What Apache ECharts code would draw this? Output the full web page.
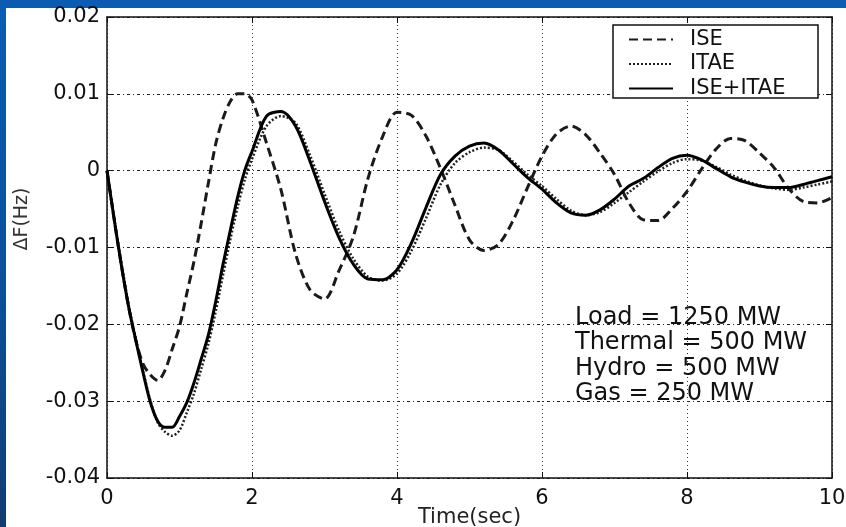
<!DOCTYPE html>
<html>
<head>
<meta charset="utf-8">
<script src="https://cdn.jsdelivr.net/npm/echarts@6.0.0/dist/echarts.min.js"></script>
<style>
    html, body { margin: 0; padding: 0; }
    body {
        width: 846px; height: 527px; position: relative; overflow: hidden;
        background: linear-gradient(180deg, #0b5cb2 0%, #0c5099 55%, #113d72 100%);
    }
    #sheet { position: absolute; left: 6px; top: 8px; right: 0; bottom: 0; background: #fff; }
    #chart { position: absolute; left: 0; top: 0; width: 846px; height: 527px; }
</style>
</head>
<body>
<div id="sheet"></div>
<div id="chart"></div>
<script>
    // time samples (s)
    const timeSec = [
        0, 0.1, 0.2, 0.3, 0.4, 0.5, 0.6, 0.7, 0.8, 0.9, 1.0,
        1.1, 1.2, 1.3, 1.4, 1.5, 1.6, 1.7, 1.8, 1.9, 2.0,
        2.2, 2.4, 2.6, 2.8, 3.0, 3.2, 3.4, 3.6, 3.8, 4.0,
        4.2, 4.4, 4.6, 4.8, 5.0, 5.2, 5.4, 5.6, 5.8, 6.0,
        6.2, 6.4, 6.6, 6.8, 7.0, 7.2, 7.4, 7.6, 7.8, 8.0,
        8.2, 8.4, 8.6, 8.8, 9.0, 9.2, 9.4, 9.6, 9.8, 10.0
    ];

    // delta F (Hz)
    const ise = [
        0, -0.0064, -0.0124, -0.0178, -0.0222, -0.0252, -0.0266, -0.0273, -0.0260, -0.0232, -0.0203,
        -0.0160, -0.0118, -0.0068, -0.0015, 0.0035, 0.0068, 0.0090, 0.0100, 0.0100, 0.0092,
        0.0036, -0.0025, -0.0108, -0.0155, -0.0167, -0.0130, -0.0085, -0.0010, 0.0044, 0.0076,
        0.0072, 0.0045, 0.0003, -0.0045, -0.0090, -0.0104, -0.0096, -0.0065, -0.0022, 0.0019,
        0.0048, 0.0058, 0.0047, 0.0023, -0.0005, -0.0042, -0.0064, -0.0065, -0.0049, -0.0027,
        0.0002, 0.0028, 0.0042, 0.0039, 0.0023, 0.0004, -0.0023, -0.0040, -0.0042, -0.0035
    ];
    const itae = [
        0, -0.0062, -0.0121, -0.0175, -0.0220, -0.0262, -0.0300, -0.0328, -0.0340, -0.0345, -0.0338,
        -0.0315, -0.0290, -0.0258, -0.0225, -0.0183, -0.0136, -0.0090, -0.0048, -0.0012, 0.0015,
        0.0058, 0.0071, 0.0062, 0.0020, -0.0030, -0.0078, -0.0115, -0.0138, -0.0143, -0.0134,
        -0.0104, -0.0062, -0.0018, 0.0010, 0.0024, 0.0030, 0.0027, 0.0012, -0.0005, -0.0020,
        -0.0037, -0.0052, -0.0058, -0.0054, -0.0042, -0.0028, -0.0014, -0.0001, 0.0010, 0.0015,
        0.0013, 0.0005, -0.0005, -0.0013, -0.0019, -0.0023, -0.0025, -0.0022, -0.0018, -0.0014
    ];
    const iseItae = [
        0, -0.0064, -0.0124, -0.0178, -0.0222, -0.0264, -0.0302, -0.0326, -0.0334, -0.0334, -0.0320,
        -0.0302, -0.0276, -0.0245, -0.0213, -0.0170, -0.0122, -0.0078, -0.0035, 0.0000, 0.0025,
        0.0071, 0.0077, 0.0058, 0.0012, -0.0040, -0.0087, -0.0122, -0.0141, -0.0142, -0.0129,
        -0.0094, -0.0048, -0.0005, 0.0019, 0.0032, 0.0036, 0.0027, 0.0009, -0.0009, -0.0024,
        -0.0042, -0.0055, -0.0058, -0.0051, -0.0037, -0.0020, -0.0010, 0.0004, 0.0016, 0.0020,
        0.0014, 0.0003, -0.0008, -0.0015, -0.0020, -0.0022, -0.0022, -0.0018, -0.0013, -0.0008
    ];

    const seriesNames = ["ISE", "ITAE", "ISE+ITAE"];
    const noteLines = ["Load = 1250 MW", "Thermal = 500 MW", "Hydro = 500 MW", "Gas = 250 MW"];

    const FONT = "DejaVu Sans";
    const ink = "#111";

    const pairs = arr => timeSec.map((t, i) => [t, arr[i]]);

    const boxAxis = (extra) => Object.assign({
        type: "value",
        axisLine: { show: true, onZero: false, lineStyle: { color: ink, width: 1.5 } },
        axisTick: { show: true, inside: true, length: 6, lineStyle: { color: ink, width: 1 } },
        axisLabel: { show: false },
        splitLine: { show: false }
    }, extra);

    const chart = echarts.init(document.getElementById("chart"));

    chart.setOption({
        animation: false,
        backgroundColor: "transparent",
        grid: { left: 107, right: 14, top: 17, bottom: 49, outerBoundsMode: "none", containLabel: false },
        legend: {
            data: seriesNames,
            orient: "vertical",
            left: 628, top: 29,
            padding: 0,
            itemWidth: 44, itemHeight: 20, itemGap: 3.5,
            itemStyle: { opacity: 0 },
            textStyle: { fontFamily: FONT, fontSize: 21, color: ink, lineHeight: 20, padding: [0, 0, 0, 12] },
            z: 20
        },
        xAxis: [
            boxAxis({
                min: 0, max: 10, interval: 2, position: "bottom",
                axisLabel: { show: true, color: ink, fontFamily: FONT, fontSize: 21, margin: 10 },
                splitLine: { show: true, lineStyle: { color: "#333", type: [1, 3], width: 1 } },
                name: "Time(sec)", nameLocation: "middle", nameGap: 29, nameMoveOverlap: false,
                nameTextStyle: { fontFamily: FONT, fontSize: 21, color: "#222" }
            }),
            boxAxis({ min: 0, max: 10, interval: 2, position: "top" })
        ],
        yAxis: [
            boxAxis({
                min: -0.04, max: 0.02, interval: 0.01, position: "left",
                axisLabel: {
                    show: true, color: ink, fontFamily: FONT, fontSize: 21, margin: 7,
                    formatter: v => Math.abs(v) < 1e-9 ? "0" : v.toFixed(2)
                },
                splitLine: { show: true, lineStyle: { color: "#222", type: [3, 3, 1, 3], width: 1 } }
            }),
            boxAxis({ min: -0.04, max: 0.02, interval: 0.01, position: "right" })
        ],
        graphic: [
            {
                type: "rect", x: 613, y: 25, z: 15,
                shape: { width: 205, height: 73 },
                style: { fill: "#fff", stroke: ink, lineWidth: 1.5 }
            },
            {
                type: "text", x: 575, y: 305, z: 15,
                style: { text: noteLines.join("\n"), font: `24px "${FONT}"`, lineHeight: 25.5, fill: ink }
            },
            {
                type: "text", x: 22, y: 219, rotation: Math.PI / 2, z: 15,
                style: { text: "ΔF(Hz)", font: `19px "${FONT}"`, fill: "#333", align: "center", verticalAlign: "middle" }
            }
        ],
        series: [
            {
                name: "ISE", type: "line", data: pairs(ise), showSymbol: false, symbol: "none", smooth: 0.3,
                lineStyle: { color: "#1a1a1a", width: 3, type: [9, 5] }, itemStyle: { color: "#1a1a1a" }
            },
            {
                name: "ITAE", type: "line", data: pairs(itae), showSymbol: false, symbol: "none", smooth: 0.3,
                lineStyle: { color: "#222", width: 2.5, type: [2, 2] }, itemStyle: { color: "#222" }
            },
            {
                name: "ISE+ITAE", type: "line", data: pairs(iseItae), showSymbol: false, symbol: "none", smooth: 0.3,
                lineStyle: { color: "#000", width: 3, type: "solid" }, itemStyle: { color: "#000" }
            }
        ]
    });
</script>
</body>
</html>
